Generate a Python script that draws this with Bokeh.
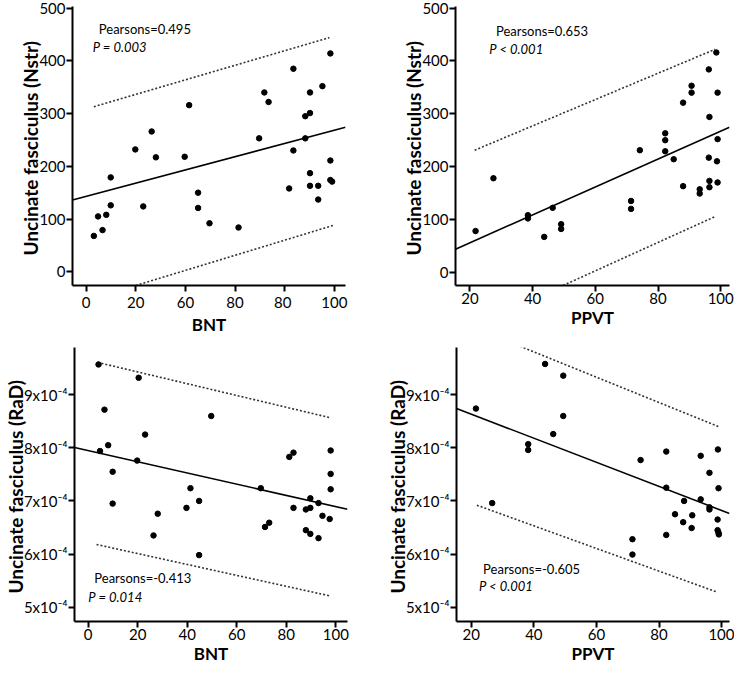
from bokeh.plotting import figure
from bokeh.models import Range1d, FixedTicker, Label, ColumnDataSource, CustomJSTickFormatter
from bokeh.layouts import column, row
from bokeh.embed import file_html
from bokeh.resources import INLINE

# ---------------- data ----------------
# Top-left: BNT vs Nstr
bnt_n_x = [3.1, 4.8, 6.6, 8.1, 9.9, 9.9, 19.8, 23.0, 26.4, 28.1, 39.7, 41.5, 45.1, 45.1,
           49.7, 61.4, 69.7, 71.8, 73.5, 81.8, 83.5, 83.5, 88.3, 88.3, 90.2, 90.2, 90.2,
           90.2, 93.5, 93.5, 95.2, 98.4, 98.4, 98.4, 99.1]
bnt_n_y = [68, 105, 79, 108, 179, 126, 232, 124, 266, 217, 218, 316, 150, 121,
           92, 84, 253, 340, 322, 158, 385, 230, 295, 253, 340, 301, 187,
           163, 163, 137, 352, 414, 211, 174, 171]
bnt_n_fit = (143.0, 1.255)          # intercept, slope
bnt_n_upper = ([3.1, 98.0], [313, 444])
bnt_n_lower = ([20.0, 99.6], [-26, 88])

# Top-right: PPVT vs Nstr
ppvt_n_x = [21.8, 27.5, 38.5, 38.5, 43.7, 46.4, 49.1, 49.1, 71.4, 71.4, 74.2, 82.3, 82.3,
            82.3, 85.0, 88.0, 88.0, 90.7, 90.7, 93.3, 93.3, 96.2, 96.4, 96.2, 96.4, 96.4,
            98.6, 99.0, 99.0, 98.8, 99.0]
ppvt_n_y = [78, 178, 108, 102, 67, 122, 91, 82, 135, 120, 231, 263, 250,
            229, 214, 321, 163, 353, 340, 157, 149, 384, 294, 217, 173, 161,
            416, 340, 252, 210, 170]
ppvt_n_fit = (3.0, 2.64)
ppvt_n_upper = ([21.5, 98.2], [231, 422])
ppvt_n_lower = ([49.7, 98.4], [-25, 106])

# Bottom-left: BNT vs RaD (units of 1e-4)
bnt_r_x = [4.2, 4.8, 6.6, 8.1, 9.9, 9.9, 19.8, 20.4, 23.0, 26.4, 28.1, 39.7, 41.3, 44.8,
           44.8, 49.7, 69.7, 71.4, 73.1, 81.2, 82.9, 82.9, 87.9, 87.9, 89.7, 89.7, 89.7,
           93.0, 93.0, 94.6, 97.5, 97.9, 97.9, 97.9]
bnt_r_y = [9.57, 7.94, 8.72, 8.05, 7.55, 6.95, 7.76, 9.32, 8.25, 6.35, 6.76, 6.87, 7.24, 7.00,
           5.98, 8.60, 7.24, 6.51, 6.59, 7.83, 7.91, 6.87, 6.84, 6.45, 6.87, 7.05, 6.38,
           6.96, 6.30, 6.72, 6.66, 7.95, 7.51, 7.22]
bnt_r_fit = (7.95, -0.01057)
bnt_r_upper = ([3.8, 97.5], [9.61, 8.57])
bnt_r_lower = ([3.4, 97.8], [6.18, 5.21])

# Bottom-right: PPVT vs RaD (units of 1e-4)
ppvt_r_x = [21.5, 26.7, 38.2, 38.2, 43.6, 46.2, 49.4, 49.4, 71.5, 71.5, 74.1, 82.3, 82.3,
            82.3, 85.1, 88.0, 87.7, 90.6, 90.4, 93.3, 93.3, 96.1, 96.1, 96.1, 98.8, 99.0,
            98.7, 98.7, 99.0, 99.1]
ppvt_r_y = [8.74, 6.96, 8.07, 7.96, 9.58, 8.26, 9.36, 8.60, 6.28, 5.99, 7.77, 7.93, 7.25,
            6.36, 6.75, 7.00, 6.60, 6.73, 6.49, 7.85, 7.03, 7.53, 6.88, 6.84, 7.97, 7.24,
            6.65, 6.45, 6.40, 6.37]
ppvt_r_fit = (9.09, -0.0227)
ppvt_r_upper = ([24.9, 99.5], [10.17, 8.39])
ppvt_r_lower = ([21.8, 98.7], [6.92, 5.28])

nstr_ticks = [0, 100, 200, 300, 400, 500]
rad_ticks = [5, 6, 7, 8, 9]
rad_tick_labels = ["5x10\u207b\u2074", "6x10\u207b\u2074", "7x10\u207b\u2074",
                   "8x10\u207b\u2074", "9x10\u207b\u2074"]
bnt_ticks = [0, 20, 40, 60, 80, 100]
# as printed in the original (the second "80" carries a trailing space to keep labels distinct)
bnt_top_tick_labels = ["0", "20", "60", "80", "80 ", "100"]
ppvt_ticks = [20, 40, 60, 80, 100]

FONT = "Lato"


def label_formatter(tvals, tlabels):
    return CustomJSTickFormatter(
        args=dict(tvals=tvals, tlabels=tlabels),
        code="""
        let i = -1;
        for (let k = 0; k < tvals.length; k++) {
            if (Math.abs(tvals[k] - tick) < 1e-6) { i = k; }
        }
        return i >= 0 ? tlabels[i] : String(tick);
        """)


def panel(xs, ys, fit, upper, lower, xr, yr, xticks, yticks, xlabel, ylabel,
          r_text, p_text, r_pos, p_pos, width, height, borders,
          xlabels=None, ylabels=None):
    p = figure(width=width, height=height, output_backend="svg", toolbar_location=None,
               x_range=Range1d(*xr), y_range=Range1d(*yr))
    bl, br, bt, bb = borders
    p.min_border_left = bl
    p.min_border_right = br
    p.min_border_top = bt
    p.min_border_bottom = bb
    p.outline_line_color = None
    p.grid.visible = False
    p.background_fill_color = "white"
    p.border_fill_color = "white"

    for ax, ticks, lab, labels, lsize, lstand in (
            (p.xaxis[0], xticks, xlabel, xlabels, "17px", 0),
            (p.yaxis[0], yticks, ylabel, ylabels, "19px", -6)):
        ax.ticker = FixedTicker(ticks=ticks)
        if labels is not None:
            ax.formatter = label_formatter(ticks, labels)
            ax.major_label_overrides = {float(t): s for t, s in zip(ticks, labels)}
        ax.axis_label = lab
        ax.axis_label_text_font = FONT
        ax.axis_label_text_font_style = "bold"
        ax.axis_label_text_font_size = lsize
        ax.axis_label_text_color = "black"
        ax.axis_label_standoff = lstand
        ax.major_label_text_font = FONT
        ax.major_label_text_font_size = "15px"
        ax.major_label_text_color = "black"
        ax.axis_line_width = 2
        ax.axis_line_color = "black"
        ax.major_tick_line_width = 2
        ax.major_tick_line_color = "black"
        ax.major_tick_out = 6
        ax.major_tick_in = 0
        ax.minor_tick_line_color = None
        ax.major_label_standoff = 1

    x0, x1 = xr
    a, b = fit
    p.line([x0, x1], [a + b * x0, a + b * x1], line_color="black", line_width=1.6)
    p.line(upper[0], upper[1], line_color="#333333", line_width=1.6, line_dash="2 2")
    p.line(lower[0], lower[1], line_color="#333333", line_width=1.6, line_dash="2 2")
    src = ColumnDataSource(dict(x=xs, y=ys))
    p.scatter("x", "y", source=src, size=5.5, color="black")

    p.add_layout(Label(x=r_pos[0], y=r_pos[1], text=r_text, text_font=FONT,
                       text_font_size="13px", text_baseline="middle", text_color="black"))
    p.add_layout(Label(x=p_pos[0], y=p_pos[1], text=p_text, text_font=FONT,
                       text_font_style="italic", text_font_size="13px",
                       text_baseline="middle", text_color="black"))
    return p


p1 = panel(bnt_n_x, bnt_n_y, bnt_n_fit, bnt_n_upper, bnt_n_lower, (-5.5, 104.5), (-26, 503),
           bnt_ticks, nstr_ticks, "BNT", "Uncinate  fasciculus (Nstr)",
           "Pearsons=0.495", "P = 0.003", (5.1, 461), (2.7, 427),
           367, 337, (72, 22, 6, 46), xlabels=bnt_top_tick_labels)
p2 = panel(ppvt_n_x, ppvt_n_y, ppvt_n_fit, ppvt_n_upper, ppvt_n_lower, (15.4, 102.8), (-25, 503),
           ppvt_ticks, nstr_ticks, "PPVT", "Uncinate  fasciculus (Nstr)",
           "Pearsons=0.653", "P < 0.001", (28.3, 456), (26.2, 422),
           367, 337, (88, 5, 6, 46))
p3 = panel(bnt_r_x, bnt_r_y, bnt_r_fit, bnt_r_upper, bnt_r_lower, (-5.5, 104.7), (4.73, 9.89),
           bnt_ticks, rad_ticks, "BNT", "Uncinate  fasciculus (RaD)",
           "Pearsons=-0.413", "P = 0.014", (2.5, 5.54), (0.1, 5.19),
           367, 330, (72, 20, 10, 46), ylabels=rad_tick_labels)
p4 = panel(ppvt_r_x, ppvt_r_y, ppvt_r_fit, ppvt_r_upper, ppvt_r_lower, (15.3, 102.5), (4.73, 9.89),
           ppvt_ticks, rad_ticks, "PPVT", "Uncinate  fasciculus (RaD)",
           "Pearsons=-0.605", "P < 0.001", (23.8, 5.72), (22.5, 5.39),
           367, 330, (89, 5, 10, 46), ylabels=rad_tick_labels)

layout = column(row(p1, p2), row(p3, p4))
open("out.html", "w").write(file_html(layout, INLINE))
